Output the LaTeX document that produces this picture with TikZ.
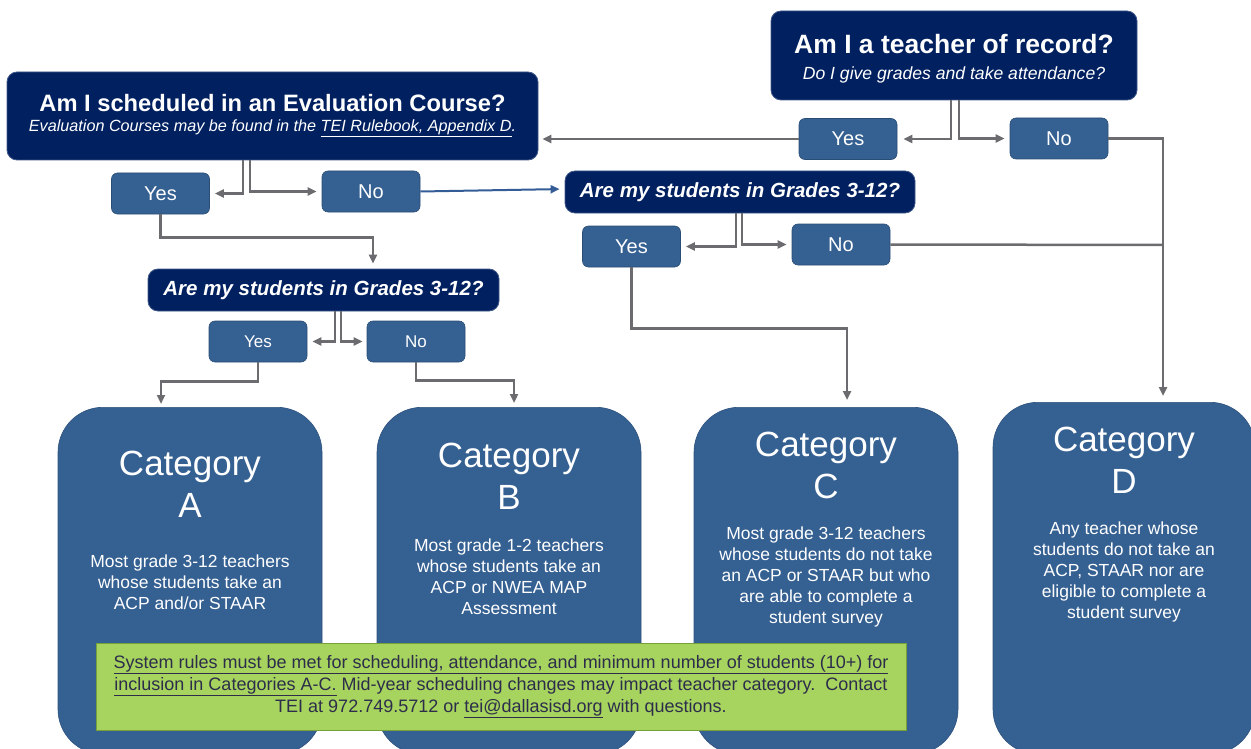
\documentclass[tikz,border=0pt]{standalone}
\usepackage{fontspec}
\setmainfont{Liberation Sans}
\usetikzlibrary{arrows.meta}

\definecolor{qnavy}{RGB}{0,32,96}
\definecolor{ansblue}{RGB}{53,96,146}
\definecolor{conngray}{RGB}{108,108,112}
\definecolor{linkblue}{RGB}{52,92,150}
\definecolor{notegreen}{RGB}{166,212,94}
\definecolor{noteedge}{RGB}{118,160,58}
\definecolor{notetext}{RGB}{45,45,75}

\tikzset{
  qbox/.style={fill=qnavy, draw=qnavy!75!white, line width=0.8pt, rounded corners=10pt,
    text=white, align=center, inner sep=0pt},
  ansbox/.style={fill=ansblue, draw=ansblue!80!black, line width=0.6pt, rounded corners=6pt,
    text=white, minimum width=98pt, minimum height=41pt, inner sep=0pt,
    font=\fontsize{20}{24}\selectfont},
  catbox/.style={fill=ansblue, draw=ansblue!85!black, line width=0.6pt, rounded corners=45pt,
    minimum width=264pt, minimum height=347pt, anchor=north, inner sep=0pt},
  cattitle/.style={text=white, align=center, font=\fontsize{35}{42}\selectfont},
  catdesc/.style={text=white, align=center, font=\fontsize{17.5}{21}\selectfont},
  conn/.style={draw=conngray, line width=2.5pt},
  blueconn/.style={draw=linkblue, line width=2pt},
  notebox/.style={fill=notegreen, draw=noteedge, line width=1pt, text=notetext, align=center,
    minimum width=810pt, minimum height=87pt, inner sep=0pt,
    font=\fontsize{18}{22}\selectfont}
}

\begin{document}
\begin{tikzpicture}[x=1pt,y=-1pt,>={Triangle[length=9pt,width=8pt]}]
	\useasboundingbox (0,0) rectangle (1251,749);
	\clip (0,0) rectangle (1251,749);
	% Fragen
	\node[qbox, minimum width=366pt, minimum height=89pt] (q1) at (954,55.5)
	  {{\fontsize{26.5}{30}\selectfont\bfseries\rule{0pt}{26pt}Am I a teacher of record?}\\[12pt]
	   {\fontsize{17.6}{20}\selectfont\itshape Do I give grades and take attendance?}};
	\node[qbox, minimum width=531pt, minimum height=88pt] (q2) at (272.5,116)
	  {{\fontsize{23.7}{28}\selectfont\bfseries Am I scheduled in an Evaluation Course?}\\[8pt]
	   {\fontsize{16.2}{20}\selectfont\itshape Evaluation Courses may be found in the \underline{TEI Rulebook, Appendix D}.}};
	\node[qbox, minimum width=350pt, minimum height=42pt, font=\fontsize{20.5}{24}\selectfont\bfseries\itshape] (q3) at (740,192)
	  {Are my students in Grades 3-12?};
	\node[qbox, minimum width=351pt, minimum height=42pt, font=\fontsize{20.5}{24}\selectfont\bfseries\itshape] (q4) at (323.5,290)
	  {Are my students in Grades 3-12?};
	% Antworten
	\node[ansbox] (yes1) at (848,139) {Yes};
	\node[ansbox] (no1) at (1059,138.5) {No};
	\node[ansbox] (yes2) at (160.5,193.5) {Yes};
	\node[ansbox] (no2) at (371,191.5) {No};
	\node[ansbox] (yes3) at (631.5,246.5) {Yes};
	\node[ansbox] (no3) at (841,244.5) {No};
	\node[ansbox, font=\fontsize{17}{20}\selectfont] (yes4) at (258,341.5) {Yes};
	\node[ansbox, font=\fontsize{17}{20}\selectfont] (no4) at (416,341.5) {No};
	% Kategorien
	\node[catbox] (catA) at (190,407) {};
	\node[catbox] (catB) at (509,407) {};
	\node[catbox] (catC) at (826,407) {};
	\node[catbox, minimum width=262pt, minimum height=352pt] (catD) at (1124,402) {};
	\node[cattitle] (tA) at (190,484) {Category\\A};
	\node[cattitle] (tB) at (509,476.5) {Category\\B};
	\node[cattitle] (tC) at (826,465.5) {Category\\C};
	\node[cattitle] (tD) at (1124,460.5) {Category\\D};
	\node[catdesc] (dA) at (190,582) {Most grade 3-12 teachers\\whose students take an\\ACP and/or STAAR};
	\node[catdesc] (dB) at (509,577) {Most grade 1-2 teachers\\whose students take an\\ACP or NWEA MAP\\Assessment};
	\node[catdesc] (dC) at (826,577) {Most grade 3-12 teachers\\whose students do not take\\an ACP or STAAR but who\\are able to complete a\\student survey};
	\node[catdesc] (dD) at (1124,572) {Any teacher whose\\students do not take an\\ACP, STAAR nor are\\eligible to complete a\\student survey};
	% Hinweis
	\node[notebox] (note) at (501,686.5)
	  {\underline{System rules must be met for scheduling, attendance, and minimum number of students (10+) for}\\
	   \underline{inclusion in Categories A-C.} Mid-year scheduling changes may impact teacher category.\ \ Contact\\
	   TEI at 972.749.5712 or \underline{tei@dallasisd.org} with questions.};
	% Verbindungen
	\coordinate (jD) at (1163,245);
	\draw[conn,->,shorten >=6pt] ([xshift=-3]q1.south) |- (yes1.east);
	\draw[conn,->,shorten >=5pt] ([xshift=5]q1.south) |- (no1.west);
	\draw[conn,->,shorten >=4pt] (yes1.west) -- (q2.east |- yes1.west);
	\draw[conn] (no1.east) -| (jD);
	\draw[conn] (no3.east) -- (jD);
	\draw[conn,->,shorten >=6pt] (jD) -- (jD |- catD.north);
	\draw[conn,->,shorten >=5pt] ([xshift=-29.5]q2.south) |- (yes2.east);
	\draw[conn,->,shorten >=5pt] ([xshift=-22.5]q2.south) |- (no2.west);
	\draw[blueconn,->,shorten >=5pt] (no2.east) -- ([yshift=3]q3.west);
	\draw[conn,->,shorten >=5pt] (yes2.south) -- ++(0,23) -| ([xshift=49.5]q4.north);
	\draw[conn,->,shorten >=5pt] ([xshift=-4]q3.south) |- (yes3.east);
	\draw[conn,->,shorten >=5pt] ([xshift=2]q3.south) |- (no3.west);
	\draw[conn,->,shorten >=7pt] (yes3.south) -- ++(0,61) -| ([xshift=21]catC.north);
	\draw[conn,->,shorten >=5pt] ([xshift=11.5]q4.south) |- (yes4.east);
	\draw[conn,->,shorten >=4pt] ([xshift=17.5]q4.south) |- (no4.west);
	\draw[conn,->,shorten >=3pt] (yes4.south) -- ++(0,19) -| ([xshift=-29]catA.north);
	\draw[conn,->,shorten >=4pt] (no4.south) -- ++(0,18) -| ([xshift=5]catB.north);
\end{tikzpicture}
\end{document}
